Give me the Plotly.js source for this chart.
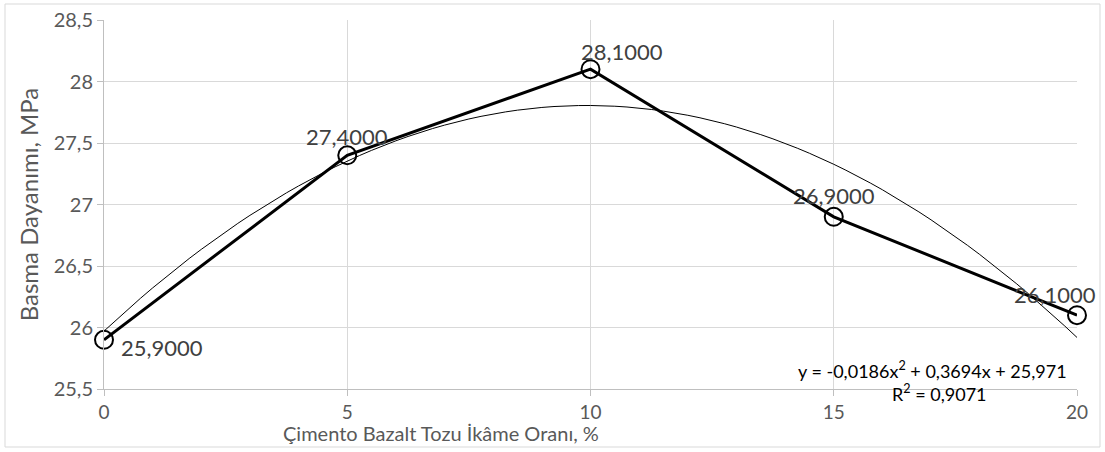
<!DOCTYPE html>
<html>
<head>
<meta charset="utf-8">
<script src="https://cdn.plot.ly/plotly-3.0.1.min.js"></script>
<style>
  html, body { margin: 0; padding: 0; background: #fff; }
  #chart { width: 1105px; height: 452px; }
</style>
</head>
<body>
<div id="chart"></div>
<script>
// Replacement ratio (%) and compressive strength (MPa)
const ratios = [0, 5, 10, 15, 20];
const strength = [25.9, 27.4, 28.1, 26.9, 26.1];

// Second-order trendline coefficients [a2, a1, a0] and R²
const trendCoef = [-0.0186, 0.3694, 25.971];
const rSquared = 0.9071;

// Label offsets (px) for each data label
const labelShiftX = [58, 0, 31, 0, -22];
const labelShiftY = [-8, 19, 18, 21, 21];

const fmt = (v, d) => v.toFixed(d).replace('.', ',');

// Trendline evaluated along the x range
const trendX = [];
const trendY = [];
for (let i = 0; i <= 80; i++) {
  const x = i * 0.25;
  trendX.push(x);
  trendY.push(trendCoef[0] * x * x + trendCoef[1] * x + trendCoef[2]);
}

const font = 'Lato, "Open Sans", sans-serif';
const gray = '#595959';

const traces = [
  {
    x: trendX, y: trendY, mode: 'lines', type: 'scatter',
    line: { color: '#000', width: 1 }, hoverinfo: 'skip', showlegend: false
  },
  {
    x: ratios, y: strength, mode: 'lines+markers', type: 'scatter',
    line: { color: '#000', width: 3 },
    marker: { symbol: 'circle-open', size: 18, color: '#000', line: { width: 2, color: '#000' } },
    showlegend: false, cliponaxis: false
  }
];

const annotations = ratios.map((x, i) => ({
  x: x, y: strength[i], xref: 'x', yref: 'y',
  text: fmt(strength[i], 4), showarrow: false,
  xshift: labelShiftX[i], yshift: labelShiftY[i],
  font: { family: font, size: 22, color: '#404040' }
}));

annotations.push({
  x: 0.851, y: 0.0515, xref: 'paper', yref: 'paper', showarrow: false,
  xanchor: 'center', yanchor: 'middle',
  text: 'y = -' + fmt(-trendCoef[0], 4) + 'x<sup>2</sup> + ' + fmt(trendCoef[1], 4) + 'x + ' + fmt(trendCoef[2], 3),
  font: { family: font, size: 18, color: '#000' }
});
annotations.push({
  x: 0.859, y: -0.011, xref: 'paper', yref: 'paper', showarrow: false,
  xanchor: 'center', yanchor: 'middle',
  text: 'R<sup>2</sup> = ' + fmt(rSquared, 4),
  font: { family: font, size: 18, color: '#000' }
});
annotations.push({
  x: 0.346, y: -0.119, xref: 'paper', yref: 'paper', showarrow: false,
  xanchor: 'center', yanchor: 'middle',
  text: 'Çimento Bazalt Tozu İkâme Oranı, %',
  font: { family: font, size: 20, color: gray }
});

const layout = {
  width: 1105, height: 452,
  margin: { l: 104, r: 28, t: 20, b: 63 },
  paper_bgcolor: '#fff', plot_bgcolor: '#fff',
  separators: ', ',
  font: { family: font, color: gray },
  xaxis: {
    range: [0, 20], tickvals: ratios, ticktext: ratios.map(String),
    showgrid: true, gridcolor: '#d9d9d9', gridwidth: 1,
    showline: true, linecolor: '#bfbfbf', linewidth: 1,
    ticks: 'outside', ticklen: 6, tickcolor: '#bfbfbf',
    zeroline: false,
    tickfont: { family: font, size: 19, color: gray }
  },
  yaxis: {
    range: [25.5, 28.5], dtick: 0.5,
    showgrid: true, gridcolor: '#d9d9d9', gridwidth: 1,
    showline: true, linecolor: '#bfbfbf', linewidth: 1,
    ticks: 'outside', ticklen: 6, tickcolor: '#bfbfbf',
    zeroline: false,
    tickfont: { family: font, size: 20, color: gray },
    title: { text: 'Basma Dayanımı, MPa', font: { family: font, size: 24, color: gray }, standoff: 8 }
  },
  annotations: annotations,
  shapes: [{
    type: 'rect', xref: 'paper', yref: 'paper',
    x0: (5 - 104) / 973, x1: (1100 - 104) / 973,
    y0: (389 - 447) / 369, y1: (389 - 4) / 369,
    line: { color: '#d9d9d9', width: 1 }, fillcolor: 'rgba(0,0,0,0)', layer: 'below'
  }]
};

Plotly.newPlot('chart', traces, layout, { displayModeBar: false, staticPlot: true });
</script>
</body>
</html>
